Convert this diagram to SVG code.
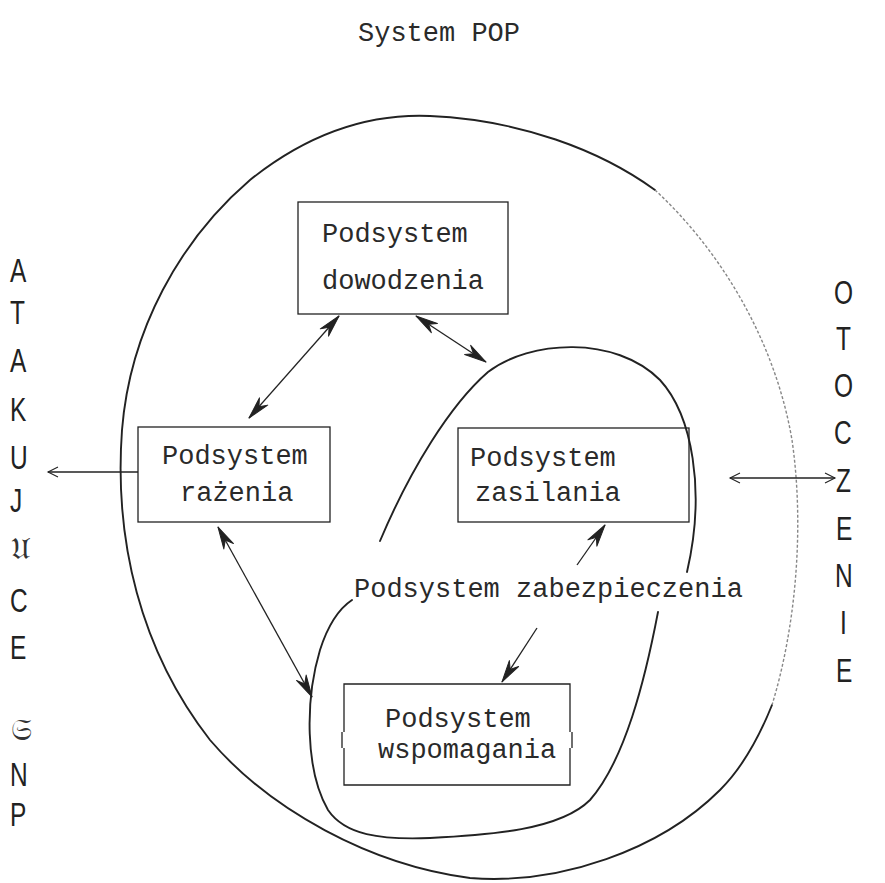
<svg xmlns="http://www.w3.org/2000/svg" width="885" height="883" viewBox="0 0 885 883">
<defs>
<style>
.mono{font-family:"Liberation Mono","DejaVu Sans Mono",monospace;font-size:27px;fill:#2a2a2a}
.col{font-family:"Liberation Sans","DejaVu Sans",sans-serif;font-size:34px;fill:#222}
.frak{font-family:"DejaVu Serif","Noto Sans",serif;font-size:30px;fill:#333}
.box{fill:none;stroke:#222;stroke-width:1.3}
.curve{fill:none;stroke:#222;stroke-width:1.9;stroke-linecap:round;stroke-linejoin:round}
.faint{fill:none;stroke:#888;stroke-width:1.4;stroke-dasharray:3 2}
.conn{fill:none;stroke:#222;stroke-width:1.3}
</style>
<marker id="barb" viewBox="-24 -7 26 14" refX="0" refY="0" markerWidth="26" markerHeight="14" markerUnits="userSpaceOnUse" orient="auto-start-reverse">
<path d="M0,0 L-22,-5.5 L-15,0 L-22,5.5 Z" fill="#222" stroke="#222" stroke-width="1" stroke-linejoin="round"/>
</marker>
<marker id="open" viewBox="-12 -6 14 12" refX="0" refY="0" markerWidth="14" markerHeight="12" markerUnits="userSpaceOnUse" orient="auto-start-reverse">
<path d="M-10,-5 L0,0 L-10,5" fill="none" stroke="#222" stroke-width="1.1"/>
</marker>
</defs>
<rect width="885" height="883" fill="#fff"/>

<text class="mono" x="358" y="41">System POP</text>

<g id="outer-loop">
<path class="curve" d="M655,190 C600,150 520,120 430,116 C360,113 300,140 250,180 C180,240 130,330 122,430 C114,540 140,650 210,740 C270,810 370,865 470,878 C560,885 660,850 720,790 C745,765 760,735 772,705"/>
<path class="faint" d="M655,190 C720,250 775,340 792,440 C805,530 795,630 772,705"/>
</g>

<g id="inner-loop">
<path class="curve" d="M380,541 C410,470 450,405 488,372 C530,340 615,335 660,380 C692,415 706,490 687,572"/>
<path class="curve" d="M658,612 C645,680 625,760 590,800 C560,830 490,835 430,838 C380,840 345,835 328,810 C305,770 305,700 320,650 C328,625 340,608 352,600"/>
</g>

<g id="n-dowodzenia">
<rect class="box" x="298" y="202" width="210" height="112"/>
<text class="mono" x="322" y="242">Podsystem</text>
<text class="mono" x="322" y="289">dowodzenia</text>
</g>

<g id="n-razenia">
<rect class="box" x="138" y="427" width="192" height="95"/>
<text class="mono" x="162" y="464">Podsystem</text>
<text class="mono" x="180" y="501">rażenia</text>
</g>

<g id="n-zasilania">
<rect class="box" x="458" y="428" width="231" height="94"/>
<text class="mono" x="470" y="466">Podsystem</text>
<text class="mono" x="475" y="501">zasilania</text>
</g>

<g id="n-zabezpieczenia">
<text class="mono" x="354" y="597">Podsystem zabezpieczenia</text>
</g>

<g id="n-wspomagania">
<path class="box" d="M344,732 V684 H570 V732 M570,748 V785 H344 V748"/>
<path class="box" d="M342,732 V748 M572,732 V748"/>
<text class="mono" x="385" y="727">Podsystem</text>
<text class="mono" x="378" y="758">wspomagania</text>
</g>

<g id="connectors">
<line class="conn" x1="339" y1="316" x2="249" y2="418" marker-start="url(#barb)" marker-end="url(#barb)"/>
<line class="conn" x1="416" y1="316" x2="486" y2="362" marker-start="url(#barb)" marker-end="url(#barb)"/>
<line class="conn" x1="218" y1="527" x2="312" y2="697" marker-start="url(#barb)" marker-end="url(#barb)"/>
<line class="conn" x1="577" y1="565" x2="605" y2="525" marker-end="url(#barb)"/>
<line class="conn" x1="537" y1="628" x2="502" y2="682" marker-end="url(#barb)"/>
<line class="conn" x1="138" y1="472" x2="48" y2="472" marker-end="url(#open)"/>
<line class="conn" x1="730" y1="478" x2="835" y2="478" marker-start="url(#open)" marker-end="url(#open)"/>
</g>

<g id="left-label">
<text class="col" transform="translate(10,282) scale(0.72,1)">A</text>
<text class="col" transform="translate(10,324) scale(0.72,1)">T</text>
<text class="col" transform="translate(10,372) scale(0.72,1)">A</text>
<text class="col" transform="translate(10,421) scale(0.72,1)">K</text>
<text class="col" transform="translate(10,469) scale(0.72,1)">U</text>
<text class="col" transform="translate(10,512) scale(0.72,1)">J</text>
<text class="frak" x="11" y="559">𝔘</text>
<text class="col" transform="translate(10,612) scale(0.72,1)">C</text>
<text class="col" transform="translate(10,659) scale(0.72,1)">E</text>
<text class="frak" x="11" y="740">𝔖</text>
<text class="col" transform="translate(10,786) scale(0.72,1)">N</text>
<text class="col" transform="translate(10,826) scale(0.72,1)">P</text>
</g>

<g id="right-label">
<text class="col" transform="translate(834,304) scale(0.72,1)">O</text>
<text class="col" transform="translate(836,350) scale(0.72,1)">T</text>
<text class="col" transform="translate(834,397) scale(0.72,1)">O</text>
<text class="col" transform="translate(834,444) scale(0.72,1)">C</text>
<text class="col" transform="translate(836,492) scale(0.72,1)">Z</text>
<text class="col" transform="translate(836,540) scale(0.72,1)">E</text>
<text class="col" transform="translate(835,587) scale(0.72,1)">N</text>
<text class="col" transform="translate(840,634) scale(0.72,1)">I</text>
<text class="col" transform="translate(836,682) scale(0.72,1)">E</text>
</g>
</svg>
